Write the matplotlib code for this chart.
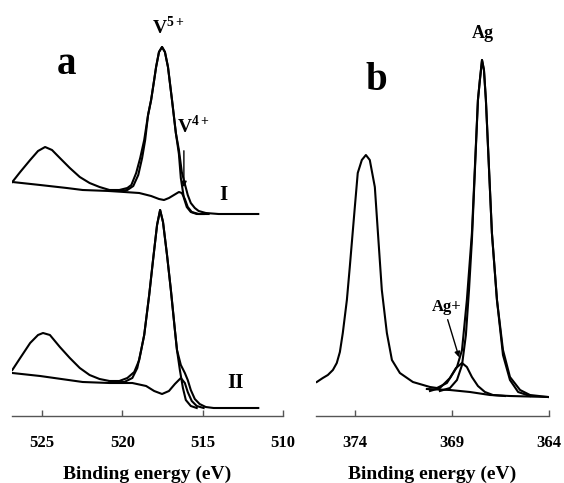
import numpy as np
import matplotlib
matplotlib.use("Agg")
import matplotlib.pyplot as plt

plt.rcParams['font.family'] = ['Liberation Serif', 'DejaVu Serif']
plt.rcParams['font.weight'] = 'bold'
plt.rcParams['mathtext.fontset'] = 'custom'
plt.rcParams['mathtext.rm'] = 'Liberation Serif:bold'
plt.rcParams['mathtext.bf'] = 'Liberation Serif:bold'

# ---- panel a: V 2p, sample I (upper) ----
eI_env = [526.85, 526.36, 525.74, 525.25, 524.81, 524.38, 523.89, 523.27, 522.65, 522.04,
          521.42, 520.80, 520.19, 519.69, 519.44, 519.14, 518.89, 518.64, 518.40, 518.21,
          518.02, 517.90, 517.72, 517.53, 517.35, 517.16, 516.91, 516.67, 516.48, 516.30,
          516.11, 515.93, 515.74, 515.49, 515.25, 514.81, 514.01, 511.54]
iI_env = [234, 244, 256, 265, 269, 266, 258, 248, 239, 233,
          229, 226, 226, 228, 231, 243, 258, 276, 301, 316,
          336, 349, 364, 369, 364, 349, 316, 283, 266, 244,
          232, 221, 213, 208, 205, 203, 202, 202]
eI_v5 = [520.80, 520.19, 519.69, 519.32, 519.01, 518.77, 518.58, 518.40, 518.21, 518.02,
         517.90, 517.72, 517.53, 517.35, 517.16, 516.91, 516.67, 516.48, 516.36, 516.17,
         515.99, 515.74, 515.37, 514.94]
iI_v5 = [225, 225, 226, 230, 241, 258, 276, 301, 316, 336,
         349, 364, 369, 364, 349, 316, 283, 262, 238, 218,
         209, 204, 202, 202]
eI_v4 = [526.85, 525.12, 523.46, 522.47, 520.80, 518.95, 518.21, 517.72, 517.41, 517.10,
         516.79, 516.48, 516.30, 516.11, 515.93, 515.68, 515.25, 514.63]
iI_v4 = [234, 231, 228, 226, 225, 223, 220, 217, 216, 218,
         221, 224, 223, 217, 209, 204, 202, 202]

# ---- panel a: V 2p, sample II (lower) ----
eII_env = [526.85, 526.36, 525.74, 525.25, 524.94, 524.51, 523.89, 523.27, 522.65, 522.04,
           521.42, 520.80, 520.19, 519.69, 519.26, 518.95, 518.64, 518.33, 518.09, 517.84,
           517.65, 517.47, 517.22, 516.98, 516.73, 516.60, 516.36, 516.11, 515.93, 515.74,
           515.49, 515.19, 514.81, 514.32, 511.54]
iII_env = [46, 58, 73, 81, 83, 81, 69, 58, 48, 41,
           37, 35, 35, 38, 44, 56, 81, 121, 156, 191,
           206, 194, 161, 126, 86, 66, 51, 43, 36, 26,
           17, 12, 9, 8, 8]
eII_v5 = [520.80, 519.88, 519.38, 519.07, 518.83, 518.64, 518.33, 518.09, 517.84, 517.65,
          517.47, 517.22, 516.98, 516.73, 516.60, 516.42, 516.23, 516.05, 515.74, 515.37]
iII_v5 = [34, 34, 38, 48, 66, 81, 121, 156, 191, 206,
          194, 161, 126, 86, 66, 46, 28, 16, 10, 8]
eII_v4 = [526.85, 525.12, 522.47, 520.80, 519.38, 518.52, 518.02, 517.53, 517.10, 516.73,
          516.36, 516.11, 515.93, 515.68, 515.37, 514.94]
iII_v4 = [43, 40, 34, 33, 33, 30, 25, 22, 25, 32,
          38, 33, 24, 15, 10, 8]

# ---- panel b: Ag 3d ----
eAg_env = [375.96, 375.65, 375.39, 375.13, 374.93, 374.77, 374.62, 374.41, 374.26, 374.00,
           373.85, 373.64, 373.43, 373.23, 372.97, 372.81, 372.61, 372.35, 372.09, 371.68,
           371.01, 370.13, 369.77, 369.26, 368.74, 368.48, 368.23, 367.97, 367.66, 367.56,
           367.45, 367.35, 367.25, 366.94, 366.68, 366.37, 366.01, 365.49, 364.98, 364.05]
iAg_env = [34, 38, 41, 46, 53, 64, 83, 116, 149, 209,
           243, 256, 261, 256, 229, 183, 126, 83, 56, 43,
           34, 29, 28, 33, 49, 66, 116, 183, 316, 336,
           356, 346, 316, 183, 116, 66, 39, 26, 21, 19]
eAg_0 = [369.62, 369.10, 368.74, 368.48, 368.28, 368.12, 367.97, 367.66, 367.56, 367.45,
         367.35, 367.25, 366.94, 366.68, 366.37, 366.01, 365.59, 364.98]
iAg_0 = [25, 28, 36, 51, 81, 126, 176, 316, 336, 356,
         346, 316, 183, 116, 61, 36, 24, 20]
eAg_1 = [370.13, 369.62, 369.10, 368.79, 368.48, 368.23, 367.97, 367.66, 367.30, 366.89, 366.27]
iAg_1 = [25, 28, 38, 48, 53, 49, 39, 30, 24, 21, 20]
eAg_bg = [370.29, 369.10, 368.07, 367.04, 366.01, 364.05]
iAg_bg = [27, 26, 24, 21, 20, 19]

fig = plt.figure(figsize=(5.64, 4.83), dpi=100)
W, H = 564.0, 483.0
axa = fig.add_axes([12 / W, 67 / H, (283 - 12) / W, 416 / H])
axb = fig.add_axes([316 / W, 67 / H, (549 - 316) / W, 416 / H])

lw = 1.5
for e, i in [(eI_v4, iI_v4), (eI_v5, iI_v5), (eI_env, iI_env),
             (eII_v4, iII_v4), (eII_v5, iII_v5), (eII_env, iII_env)]:
    axa.plot(e, i, color='black', lw=lw)
for e, i in [(eAg_bg, iAg_bg), (eAg_1, iAg_1), (eAg_0, iAg_0), (eAg_env, iAg_env)]:
    axb.plot(e, i, color='black', lw=lw)

axa.set_xlim(526.87, 510)
axb.set_xlim(376.0, 364)
for ax, ticks in [(axa, [525, 520, 515, 510]), (axb, [374, 369, 364])]:
    ax.set_ylim(0, 416)
    ax.set_xticks(ticks)
    ax.set_yticks([])
    for s in ['top', 'right', 'left']:
        ax.spines[s].set_visible(False)
    ax.spines['bottom'].set_color('#555555')
    ax.spines['bottom'].set_linewidth(1.0)
    ax.tick_params(axis='x', direction='in', length=4, width=1.0, color='#555555',
                   labelsize=12, pad=14)
    for t in ax.get_xticklabels():
        t.set_fontweight('bold')
    ax.set_xlabel('Binding energy (eV)', fontsize=14, fontweight='bold', labelpad=10)
    ax.patch.set_visible(False)

axa.text(523.46, 351, 'a', fontsize=28, fontweight='bold', ha='center', va='center')
axa.text(517.1, 389, r'V$^{5+}$', fontsize=14, ha='center', va='center')
axa.text(515.6, 290, r'V$^{4+}$', fontsize=14, ha='center', va='center')
axa.annotate('', xy=(516.17, 226), xytext=(516.17, 268),
             arrowprops=dict(arrowstyle='-|>', color='black', lw=1.0, mutation_scale=8))
axa.text(513.7, 221, 'I', fontsize=15, fontweight='bold', ha='center', va='center')
axa.text(512.96, 33, 'II', fontsize=15, fontweight='bold', ha='center', va='center')

axb.text(372.87, 336, 'b', fontsize=28, fontweight='bold', ha='center', va='center')
axb.text(367.4, 383, 'Ag', fontsize=13, fontweight='bold', ha='center', va='center')
axb.text(369.26, 109, 'Ag+', fontsize=12, fontweight='bold', ha='center', va='center')
axb.annotate('', xy=(368.59, 56), xytext=(369.26, 99),
             arrowprops=dict(arrowstyle='-|>', color='black', lw=1.0, mutation_scale=8))

fig.savefig('out.png', dpi=100)
